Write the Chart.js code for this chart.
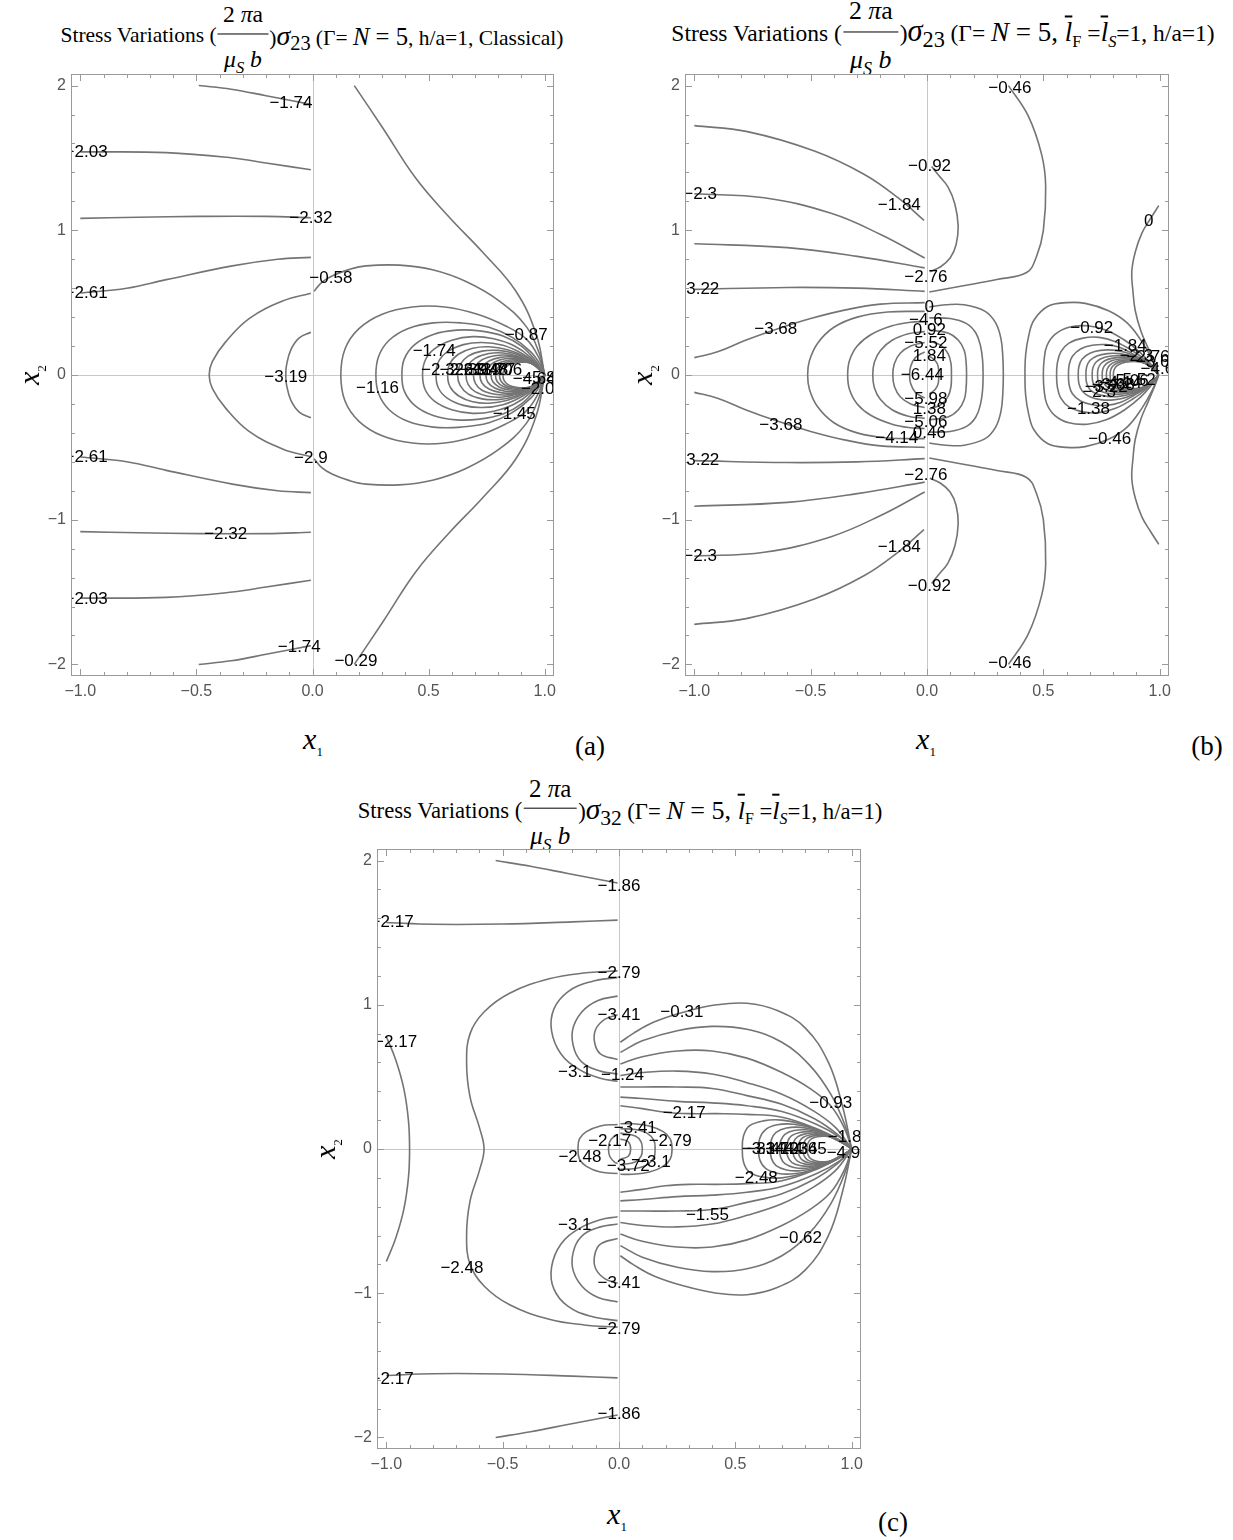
<!DOCTYPE html>
<html>
<head>
<meta charset="utf-8">
<title>Stress Variations</title>
<script src="https://cdn.jsdelivr.net/npm/chart.js@4.4.1/dist/chart.umd.min.js"></script>
<style>
  html, body { margin: 0; padding: 0; background: #fff; }
  #page { position: relative; width: 1233px; height: 1540px; overflow: hidden; background: #fff;
          font-family: "Liberation Serif", "Times New Roman", serif; color: #000; }
  #page canvas { position: absolute; }
  .title { position: absolute; display: flex; align-items: center; white-space: nowrap;
           line-height: 1; transform: translate(-50%, -50%); }
  .frac { display: inline-flex; flex-direction: column; align-items: center; margin: 0 0.05em;
          font-size: 1.1em; position: relative; top: 0.17em; }
  .frac .num { border-bottom: 1.4px solid #000; padding: 0 0.22em 0.25em; }
  .frac .den { padding-top: 0.6em; }
  .title sub { font-size: 0.7em; }
  .sig { font-style: italic; font-size: 1.3em; }
  .ix { font-size: 0.95em; position: relative; top: 0.25em; margin-right: 0.25em; }
  .big { font-size: 1.15em; }
  .lb { text-decoration: overline; font-size: 1.15em; }
  .axlab { position: absolute; font-size: 30px; font-style: italic; transform: translate(-50%, -50%); white-space: nowrap; }
  .axlab sub { font-size: 13px; font-style: normal; }
  .rot { transform: translate(-50%, -50%) rotate(-90deg); }
  .tag { position: absolute; font-size: 27px; transform: translate(-50%, -50%); }
</style>
</head>
<body>
<div id="page">
  <div class="title" style="left:312px;top:36px;font-size:21.5px">
    <span>Stress Variations (</span>
    <span class="frac"><span class="num">2 <i>π</i>a</span><span class="den"><i>μ</i><sub><i>S</i></sub> <i>b</i></span></span>
    <span>)<i class="sig">σ</i><span class="ix">23</span>(Γ= <i class="big">N</i><span class="big">&nbsp;=&nbsp;5</span>, h/a=1, Classical)</span>
  </div>
  <div class="title" style="left:943px;top:34px;font-size:23.5px">
    <span>Stress Variations (</span>
    <span class="frac"><span class="num">2 <i>π</i>a</span><span class="den"><i>μ</i><sub><i>S</i></sub> <i>b</i></span></span>
    <span>)<i class="sig">σ</i><span class="ix">23</span>(Γ= <i class="big">N</i><span class="big">&nbsp;=&nbsp;5,&nbsp;</span><i class="lb">l</i><sub>F</sub>&nbsp;=<i class="lb">l</i><sub><i>S</i></sub>=1, h/a=1)</span>
  </div>
  <div class="title" style="left:620px;top:811px;font-size:22.7px">
    <span>Stress Variations (</span>
    <span class="frac"><span class="num">2 <i>π</i>a</span><span class="den"><i>μ</i><sub><i>S</i></sub> <i>b</i></span></span>
    <span>)<i class="sig">σ</i><span class="ix">32</span>(Γ= <i class="big">N</i><span class="big">&nbsp;=&nbsp;5,&nbsp;</span><i class="lb">l</i><sub>F</sub>&nbsp;=<i class="lb">l</i><sub><i>S</i></sub>=1, h/a=1)</span>
  </div>

  <canvas id="chartA" width="545" height="636" style="left:23px;top:74px"></canvas>
  <canvas id="chartB" width="546" height="636" style="left:637px;top:74px"></canvas>
  <canvas id="chartC" width="546" height="634" style="left:329px;top:849px"></canvas>

  <div class="axlab" style="left:313px;top:741px">x<sub>1</sub></div>
  <div class="axlab rot" style="left:31px;top:375px">x<sub>2</sub></div>
  <div class="tag" style="left:590px;top:746px">(a)</div>

  <div class="axlab" style="left:926px;top:741px">x<sub>1</sub></div>
  <div class="axlab rot" style="left:644px;top:375px">x<sub>2</sub></div>
  <div class="tag" style="left:1207px;top:746px">(b)</div>

  <div class="axlab" style="left:617px;top:1516px">x<sub>1</sub></div>
  <div class="axlab rot" style="left:327px;top:1149px">x<sub>2</sub></div>
  <div class="tag" style="left:893px;top:1522px">(c)</div>
</div>

<script>
// frame ticks shared by all three panels
const xTicks = [-1, -0.5, 0, 0.5, 1];
const yTicks = [-2, -1, 0, 1, 2];

// contour paths: [level, kind, points of the upper half (x1, x2)]
// 'j' = path meets x2 = 0 at its first point and is closed with its mirror image,
// 'm' = mirror image drawn as a separate curve
const aLines = [
  [-1.74, 'm', [[-0.49, 2.0], [-0.35, 1.975], [-0.2, 1.93], [-0.007, 1.87]]],
  [-2.03, 'm', [[-1.0, 1.542], [-0.63, 1.537], [-0.345, 1.5], [-0.2, 1.465], [-0.007, 1.418]]],
  [-2.32, 'm', [[-1.0, 1.082], [-0.75, 1.09], [-0.49, 1.096], [-0.2, 1.096], [-0.007, 1.087]]],
  [-2.61, 'm', [[-1.0, 0.567], [-0.8, 0.6], [-0.63, 0.659], [-0.345, 0.754], [-0.15, 0.8], [-0.007, 0.813]]],
  [-2.9, 'j', [[-0.445, 0], [-0.431, 0.094], [-0.374, 0.229], [-0.273, 0.39], [-0.129, 0.511], [-0.007, 0.565]]],
  [-3.19, 'j', [[-0.115, 0], [-0.112, 0.067], [-0.093, 0.175], [-0.057, 0.256], [-0.007, 0.296]]],
  [-0.29, 'm', [[0.18, 2.0], [0.302, 1.709], [0.445, 1.359], [0.589, 1.09], [0.733, 0.848], [0.876, 0.579], [0.963, 0.283], [1.0, 0]]],
  [-0.58, 'm', [[0.007, 0.579], [0.04, 0.64], [0.086, 0.686], [0.16, 0.73], [0.23, 0.754], [0.374, 0.759], [0.517, 0.727], [0.661, 0.646], [0.805, 0.511], [0.92, 0.336], [0.977, 0.148], [1.0, 0]]],
  [-0.87, 'j', [[0.122, 0], [0.14, 0.18], [0.2, 0.32], [0.3, 0.42], [0.43, 0.47], [0.57, 0.47], [0.71, 0.42], [0.83, 0.34], [0.92, 0.25], [0.975, 0.12], [1.0, 0]]],
  [-1.16, 'j', [[0.273, 0], [0.285, 0.13], [0.33, 0.24], [0.41, 0.32], [0.52, 0.36], [0.64, 0.36], [0.76, 0.33], [0.86, 0.26], [0.94, 0.16], [0.985, 0.06], [1.0, 0]]],
  [-1.45, 'j', [[0.385, 0], [0.395, 0.11], [0.44, 0.21], [0.52, 0.28], [0.62, 0.31], [0.72, 0.305], [0.82, 0.27], [0.9, 0.2], [0.96, 0.1], [1.0, 0]]],
  [-1.74, 'j', [[0.474, 0], [0.485, 0.1], [0.525, 0.18], [0.6, 0.24], [0.69, 0.265], [0.78, 0.25], [0.87, 0.2], [0.94, 0.12], [1.0, 0]]],
  [-2.03, 'j', [[0.532, 0], [0.542, 0.09], [0.58, 0.16], [0.65, 0.21], [0.73, 0.225], [0.82, 0.205], [0.9, 0.15], [0.96, 0.08], [1.0, 0]]],
  [-2.32, 'j', [[0.582, 0], [0.592, 0.08], [0.63, 0.145], [0.69, 0.185], [0.76, 0.195], [0.84, 0.175], [0.91, 0.13], [0.965, 0.07], [1.0, 0]]],
  [-2.61, 'j', [[0.625, 0], [0.635, 0.07], [0.67, 0.13], [0.73, 0.165], [0.8, 0.17], [0.87, 0.148], [0.93, 0.1], [0.975, 0.05], [1.0, 0]]],
  [-2.9, 'j', [[0.661, 0], [0.67, 0.065], [0.7, 0.115], [0.76, 0.148], [0.82, 0.152], [0.88, 0.132], [0.94, 0.088], [0.98, 0.04], [1.0, 0]]],
  [-3.19, 'j', [[0.693, 0], [0.702, 0.06], [0.73, 0.105], [0.785, 0.133], [0.84, 0.137], [0.9, 0.118], [0.95, 0.076], [1.0, 0]]],
  [-3.48, 'j', [[0.721, 0], [0.73, 0.055], [0.76, 0.097], [0.81, 0.122], [0.86, 0.125], [0.91, 0.106], [0.955, 0.068], [1.0, 0]]],
  [-3.77, 'j', [[0.747, 0], [0.755, 0.05], [0.785, 0.09], [0.83, 0.112], [0.875, 0.114], [0.92, 0.097], [0.96, 0.062], [1.0, 0]]],
  [-4.06, 'j', [[0.769, 0], [0.777, 0.047], [0.805, 0.084], [0.85, 0.104], [0.89, 0.106], [0.93, 0.09], [0.965, 0.058], [1.0, 0]]],
  [-4.35, 'j', [[0.788, 0], [0.795, 0.045], [0.822, 0.08], [0.862, 0.097], [0.9, 0.099], [0.94, 0.085], [0.97, 0.055], [1.0, 0]]],
  [-4.64, 'j', [[0.805, 0], [0.812, 0.043], [0.836, 0.076], [0.872, 0.091], [0.91, 0.093], [0.945, 0.08], [0.975, 0.052], [1.0, 0]]],
  [-4.93, 'j', [[0.82, 0], [0.826, 0.041], [0.848, 0.072], [0.882, 0.086], [0.918, 0.088], [0.95, 0.076], [0.978, 0.05], [1.0, 0]]]
];
const aLabels = [
  [-1.74, -0.093, 1.876], [-2.03, -0.975, 1.542], [-2.32, -0.007, 1.082], [-2.61, -0.975, 0.567],
  [-0.58, 0.079, 0.665], [-0.87, 0.92, 0.277], [-1.74, 0.524, 0.165], [-3.19, -0.115, -0.013],
  [-1.16, 0.28, -0.094], [-1.45, 0.869, -0.269], [-2.9, -0.007, -0.573], [-2.61, -0.975, -0.567],
  [-2.32, -0.374, -1.104], [-2.03, -0.975, -1.548], [-1.74, -0.057, -1.879], [-0.29, 0.187, -1.978],
  [-2.32, 0.56, 0.035], [-2.61, 0.64, 0.03], [-2.9, 0.68, 0.03], [-3.19, 0.72, 0.03], [-3.48, 0.75, 0.03],
  [-3.77, 0.78, 0.03], [-4.06, 0.81, 0.03], [-4.64, 0.955, -0.03], [-5.8, 0.975, -0.02], [-2.03, 0.99, -0.1]
];

const bLines = [
  [-1.84, 'm', [[-1.0, 1.723], [-0.772, 1.682], [-0.484, 1.548], [-0.269, 1.386], [-0.125, 1.225], [-0.013, 1.069]]],
  [-2.3, 'm', [[-1.0, 1.252], [-0.7, 1.225], [-0.412, 1.117], [-0.197, 0.969], [-0.01, 0.808]]],
  [-2.76, 'm', [[-1.0, 0.907], [-0.6, 0.88], [-0.3, 0.82], [-0.01, 0.74]]],
  [-3.22, 'm', [[-1.0, 0.592], [-0.6, 0.605], [-0.3, 0.6], [-0.01, 0.578]]],
  [-3.68, 'm', [[-1.0, 0.12], [-0.9, 0.16], [-0.78, 0.24], [-0.65, 0.315], [-0.5, 0.39], [-0.35, 0.45], [-0.2, 0.49], [-0.01, 0.5]]],
  [-4.14, 'j', [[-0.513, 0], [-0.505, 0.1], [-0.47, 0.22], [-0.4, 0.33], [-0.3, 0.4], [-0.17, 0.435], [-0.01, 0.44]]],
  [-4.6, 'j', [[-0.341, 0], [-0.333, 0.1], [-0.3, 0.2], [-0.24, 0.28], [-0.15, 0.34], [-0.07, 0.365], [-0.01, 0.37]]],
  [-5.06, 'j', [[-0.233, 0], [-0.226, 0.09], [-0.2, 0.17], [-0.15, 0.24], [-0.08, 0.285], [-0.01, 0.3]]],
  [-5.52, 'j', [[-0.147, 0], [-0.14, 0.08], [-0.115, 0.15], [-0.07, 0.2], [-0.01, 0.225]]],
  [-5.98, 'j', [[-0.075, 0], [-0.07, 0.06], [-0.05, 0.12], [-0.01, 0.16]]],
  [0, 'j', [[0.328, 0], [0.326, 0.12], [0.318, 0.25], [0.295, 0.36], [0.25, 0.44], [0.16, 0.485], [0.08, 0.485], [0.01, 0.47]]],
  [0.46, 'j', [[0.241, 0], [0.239, 0.1], [0.23, 0.2], [0.21, 0.29], [0.17, 0.355], [0.1, 0.39], [0.01, 0.395]]],
  [0.92, 'j', [[0.17, 0], [0.168, 0.09], [0.16, 0.17], [0.135, 0.24], [0.09, 0.29], [0.01, 0.31]]],
  [1.38, 'j', [[0.105, 0], [0.103, 0.08], [0.09, 0.15], [0.06, 0.205], [0.01, 0.235]]],
  [1.84, 'j', [[0.05, 0], [0.048, 0.06], [0.035, 0.1], [0.01, 0.13]]],
  [-0.92, 'm', [[0.02, 1.44], [0.05, 1.38], [0.09, 1.3], [0.12, 1.18], [0.134, 1.03], [0.125, 0.9], [0.1, 0.81], [0.06, 0.75], [0.012, 0.713]]],
  [-0.46, 'm', [[0.35, 2.0], [0.435, 1.79], [0.493, 1.521], [0.51, 1.306], [0.5, 1.0], [0.471, 0.821], [0.428, 0.708], [0.3, 0.66], [0.15, 0.615], [0.01, 0.573]]],
  [0, 'm', [[0.996, 1.17], [0.96, 1.08], [0.924, 0.982], [0.895, 0.85], [0.88, 0.713], [0.885, 0.58], [0.895, 0.444], [0.92, 0.3], [0.953, 0.175], [0.98, 0.07], [0.996, 0]]],
  [-0.46, 'j', [[0.421, 0], [0.424, 0.14], [0.437, 0.27], [0.46, 0.38], [0.52, 0.475], [0.6, 0.5], [0.68, 0.495], [0.78, 0.444], [0.86, 0.36], [0.924, 0.229], [0.97, 0.1], [0.995, 0]]],
  [-0.92, 'j', [[0.5, 0], [0.503, 0.1], [0.515, 0.2], [0.55, 0.28], [0.61, 0.33], [0.69, 0.34], [0.77, 0.31], [0.85, 0.24], [0.92, 0.15], [0.97, 0.06], [0.995, 0]]],
  [-1.38, 'j', [[0.557, 0], [0.56, 0.08], [0.575, 0.16], [0.61, 0.22], [0.67, 0.255], [0.74, 0.26], [0.81, 0.23], [0.88, 0.17], [0.94, 0.1], [0.995, 0]]],
  [-1.84, 'j', [[0.608, 0], [0.611, 0.07], [0.625, 0.13], [0.66, 0.18], [0.71, 0.205], [0.77, 0.21], [0.83, 0.19], [0.89, 0.14], [0.95, 0.08], [0.995, 0]]],
  [-2.3, 'j', [[0.65, 0], [0.653, 0.06], [0.667, 0.11], [0.7, 0.15], [0.745, 0.17], [0.8, 0.172], [0.855, 0.155], [0.91, 0.115], [0.96, 0.06], [0.995, 0]]],
  [-2.76, 'j', [[0.683, 0], [0.686, 0.055], [0.7, 0.1], [0.73, 0.132], [0.775, 0.148], [0.825, 0.148], [0.875, 0.132], [0.925, 0.098], [0.965, 0.05], [0.995, 0]]],
  [-3.22, 'j', [[0.71, 0], [0.713, 0.05], [0.727, 0.09], [0.755, 0.118], [0.795, 0.131], [0.84, 0.131], [0.885, 0.117], [0.93, 0.088], [0.97, 0.045], [0.995, 0]]],
  [-3.68, 'j', [[0.733, 0], [0.736, 0.046], [0.75, 0.083], [0.777, 0.108], [0.815, 0.12], [0.857, 0.12], [0.9, 0.107], [0.94, 0.08], [0.972, 0.042], [0.995, 0]]],
  [-4.14, 'j', [[0.753, 0], [0.756, 0.043], [0.77, 0.077], [0.796, 0.1], [0.832, 0.111], [0.872, 0.111], [0.91, 0.099], [0.946, 0.074], [0.975, 0.04], [0.995, 0]]],
  [-4.6, 'j', [[0.771, 0], [0.774, 0.04], [0.788, 0.072], [0.813, 0.093], [0.847, 0.103], [0.884, 0.103], [0.92, 0.092], [0.952, 0.069], [0.978, 0.037], [0.995, 0]]],
  [-5.06, 'j', [[0.787, 0], [0.79, 0.038], [0.803, 0.068], [0.827, 0.088], [0.86, 0.097], [0.895, 0.097], [0.928, 0.087], [0.957, 0.065], [0.98, 0.035], [0.995, 0]]],
  [-5.52, 'j', [[0.801, 0], [0.804, 0.036], [0.817, 0.064], [0.84, 0.083], [0.871, 0.092], [0.904, 0.092], [0.935, 0.082], [0.961, 0.062], [0.982, 0.033], [0.995, 0]]]
];
const bLabels = [
  [-0.46, 0.356, 1.978], [-0.92, 0.011, 1.44], [-1.84, -0.119, 1.176], [-2.3, -0.975, 1.25], [0, 0.953, 1.063],
  [-2.76, -0.005, 0.673], [-3.22, -0.985, 0.592], [-3.68, -0.65, 0.315],
  [0, 0.01, 0.467], [-4.6, -0.005, 0.38], [0.92, 0.01, 0.31], [-5.52, -0.005, 0.22], [1.84, 0.01, 0.13],
  [-6.44, -0.02, 0], [-5.98, -0.005, -0.166], [1.38, 0.01, -0.24], [-5.06, -0.005, -0.325], [0.46, 0.01, -0.4],
  [-4.14, -0.13, -0.436], [-3.68, -0.628, -0.35], [-3.22, -0.985, -0.592], [-2.76, -0.005, -0.692],
  [-1.84, -0.119, -1.19], [-2.3, -0.975, -1.25], [-0.92, 0.01, -1.46], [-0.46, 0.356, -1.99],
  [-0.92, 0.708, 0.323], [-1.84, 0.852, 0.196], [-2.3, 0.9, 0.13], [-2.76, 0.95, 0.12], [-3.68, 0.99, 0.09],
  [-4.6, 0.99, 0.04], [-1.38, 0.694, -0.24], [-2.3, 0.74, -0.12], [-3.22, 0.77, -0.085], [-3.68, 0.8, -0.07],
  [-4.14, 0.83, -0.06], [-5.06, 0.86, -0.045], [-5.52, 0.89, -0.035], [-0.46, 0.785, -0.445]
];

const cLines = [
  [-1.86, 'm', [[-0.53, 2.0], [-0.38, 1.96], [-0.22, 1.91], [-0.006, 1.844]]],
  [-2.17, 'm', [[-1.0, 1.57], [-0.8, 1.558], [-0.5, 1.56], [-0.2, 1.575], [-0.006, 1.587]]],
  [-2.17, 'j', [[-0.9, 0], [-0.905, 0.2], [-0.925, 0.42], [-0.96, 0.62], [-1.0, 0.78]]],
  [-2.48, 'j', [[-0.58, 0], [-0.6, 0.15], [-0.64, 0.36], [-0.655, 0.6], [-0.64, 0.8], [-0.58, 0.95], [-0.47, 1.08], [-0.3, 1.18], [-0.15, 1.22], [-0.006, 1.235]]],
  [-2.79, 'm', [[-0.006, 1.19], [-0.12, 1.16], [-0.22, 1.09], [-0.28, 0.97], [-0.29, 0.82], [-0.25, 0.66], [-0.17, 0.55], [-0.08, 0.49], [-0.006, 0.47]]],
  [-3.1, 'm', [[-0.006, 1.06], [-0.09, 1.03], [-0.16, 0.95], [-0.2, 0.82], [-0.19, 0.68], [-0.15, 0.59], [-0.08, 0.54], [-0.006, 0.52]]],
  [-3.41, 'm', [[-0.006, 0.93], [-0.06, 0.9], [-0.1, 0.83], [-0.105, 0.74], [-0.08, 0.66], [-0.006, 0.62]]],
  [-2.48, 'j', [[-0.176, 0], [-0.17, 0.07], [-0.14, 0.12], [-0.08, 0.16], [-0.006, 0.17]]],
  [-2.17, 'j', [[-0.045, 0], [-0.04, 0.05], [-0.02, 0.09], [-0.006, 0.1]]],
  [-2.79, 'j', [[0.228, 0], [0.22, 0.07], [0.19, 0.12], [0.13, 0.16], [0.06, 0.175], [0.006, 0.175]]],
  [-3.1, 'j', [[0.155, 0], [0.15, 0.06], [0.12, 0.11], [0.07, 0.135], [0.006, 0.14]]],
  [-3.41, 'j', [[0.1, 0], [0.095, 0.05], [0.07, 0.09], [0.006, 0.11]]],
  [-3.72, 'j', [[0.05, 0], [0.04, 0.05], [0.006, 0.07]]],
  [-0.31, 'm', [[0.006, 0.74], [0.06, 0.8], [0.15, 0.88], [0.28, 0.95], [0.42, 1.0], [0.55, 1.01], [0.68, 0.96], [0.8, 0.84], [0.9, 0.6], [0.96, 0.3], [1.0, 0]]],
  [-0.62, 'm', [[0.006, 0.67], [0.1, 0.75], [0.25, 0.82], [0.4, 0.85], [0.55, 0.83], [0.7, 0.74], [0.82, 0.58], [0.91, 0.38], [0.97, 0.17], [1.0, 0]]],
  [-0.93, 'm', [[0.006, 0.59], [0.1, 0.64], [0.25, 0.68], [0.4, 0.68], [0.55, 0.63], [0.7, 0.53], [0.82, 0.42], [0.91, 0.3], [0.97, 0.14], [1.0, 0]]],
  [-1.24, 'm', [[0.006, 0.51], [0.1, 0.53], [0.25, 0.54], [0.4, 0.52], [0.55, 0.46], [0.7, 0.38], [0.83, 0.27], [0.93, 0.15], [1.0, 0]]],
  [-1.55, 'm', [[0.006, 0.43], [0.1, 0.43], [0.25, 0.43], [0.4, 0.42], [0.55, 0.37], [0.7, 0.31], [0.84, 0.21], [0.94, 0.1], [1.0, 0]]],
  [-1.86, 'm', [[0.006, 0.36], [0.1, 0.35], [0.25, 0.33], [0.4, 0.32], [0.55, 0.3], [0.7, 0.26], [0.85, 0.17], [0.95, 0.08], [1.0, 0]]],
  [-2.17, 'm', [[0.006, 0.3], [0.1, 0.28], [0.2, 0.255], [0.3, 0.245], [0.42, 0.245], [0.55, 0.24], [0.7, 0.22], [0.85, 0.14], [0.95, 0.06], [1.0, 0]]],
  [-2.48, 'j', [[0.53, 0], [0.535, 0.09], [0.56, 0.16], [0.62, 0.195], [0.7, 0.2], [0.8, 0.165], [0.9, 0.1], [0.97, 0.04], [1.0, 0]]],
  [-2.79, 'j', [[0.6, 0], [0.605, 0.075], [0.63, 0.135], [0.68, 0.168], [0.75, 0.172], [0.83, 0.145], [0.91, 0.09], [0.97, 0.035], [1.0, 0]]],
  [-3.1, 'j', [[0.65, 0], [0.655, 0.065], [0.675, 0.115], [0.72, 0.145], [0.78, 0.15], [0.85, 0.128], [0.92, 0.08], [0.975, 0.03], [1.0, 0]]],
  [-3.41, 'j', [[0.69, 0], [0.695, 0.058], [0.713, 0.102], [0.752, 0.128], [0.805, 0.133], [0.865, 0.115], [0.925, 0.073], [0.975, 0.028], [1.0, 0]]],
  [-3.72, 'j', [[0.72, 0], [0.725, 0.052], [0.742, 0.092], [0.777, 0.115], [0.826, 0.12], [0.878, 0.104], [0.93, 0.067], [0.978, 0.026], [1.0, 0]]],
  [-4.03, 'j', [[0.747, 0], [0.751, 0.048], [0.767, 0.084], [0.8, 0.105], [0.844, 0.11], [0.89, 0.096], [0.937, 0.062], [0.98, 0.024], [1.0, 0]]],
  [-4.34, 'j', [[0.77, 0], [0.774, 0.045], [0.789, 0.078], [0.819, 0.097], [0.86, 0.102], [0.902, 0.089], [0.943, 0.058], [0.982, 0.022], [1.0, 0]]],
  [-4.65, 'j', [[0.79, 0], [0.794, 0.042], [0.808, 0.073], [0.836, 0.091], [0.874, 0.095], [0.912, 0.083], [0.948, 0.054], [0.984, 0.02], [1.0, 0]]],
  [-4.96, 'j', [[0.808, 0], [0.812, 0.04], [0.825, 0.069], [0.851, 0.085], [0.886, 0.089], [0.921, 0.078], [0.953, 0.051], [0.985, 0.019], [1.0, 0]]]
];
const cLabels = [
  [-1.86, 0.0, 1.82], [-2.17, -0.975, 1.57], [-2.79, 0.0, 1.22], [-3.41, 0.0, 0.93], [-0.31, 0.27, 0.95],
  [-3.1, -0.19, 0.53], [-1.24, 0.015, 0.51], [-2.17, 0.28, 0.25], [-0.93, 0.91, 0.32], [-2.17, -0.96, 0.74],
  [-3.41, 0.07, 0.14], [-2.17, -0.04, 0.05], [-2.79, 0.22, 0.05], [-2.48, -0.168, -0.055],
  [-3.72, 0.04, -0.12], [-3.1, 0.15, -0.09], [-2.48, 0.59, -0.2], [-1.55, 0.38, -0.46],
  [-3.1, -0.19, -0.53], [-0.62, 0.78, -0.62], [-2.48, -0.675, -0.825], [-3.41, 0.0, -0.93],
  [-2.79, 0.0, -1.25], [-2.17, -0.975, -1.6], [-1.86, 0.0, -1.84],
  [-3.1, 0.6, 0.0], [-3.41, 0.64, 0.0], [-3.72, 0.68, 0.0], [-4.03, 0.72, 0.0], [-4.34, 0.76, 0.0],
  [-4.65, 0.8, 0.0], [-1.86, 0.99, 0.08], [-4.96, 0.985, -0.03]
];

function fmtLevel(v) {
  return v === 0 ? '0' : (v < 0 ? '\u2212' : '') + String(Math.abs(v));
}
function fmtTick(v, digits) {
  return (v < 0 ? '\u2212' : '') + Math.abs(v).toFixed(digits);
}

function curve(data) {
  return { data: data, showLine: true, borderColor: '#747474', borderWidth: 1.6,
           pointRadius: 0, pointHoverRadius: 0, tension: 0.4, fill: false };
}

// axes at zero, the framed box with inner tick marks, and the contour labels
const framePlugin = {
  id: 'frame',
  beforeDatasetsDraw(chart) {
    const { ctx, chartArea: a, scales: { x, y } } = chart;
    const x0 = Math.round(x.getPixelForValue(0)) + 0.5;
    const y0 = Math.round(y.getPixelForValue(0)) + 0.5;
    ctx.save();
    ctx.strokeStyle = '#c8c8c8';
    ctx.lineWidth = 1;
    ctx.beginPath();
    ctx.moveTo(x0, a.top); ctx.lineTo(x0, a.bottom);
    ctx.moveTo(a.left, y0); ctx.lineTo(a.right, y0);
    ctx.stroke();
    ctx.restore();
  },
  afterDraw(chart, args, opts) {
    const { ctx, chartArea: a, scales: { x, y } } = chart;
    ctx.save();
    ctx.strokeStyle = '#9a9a9a';
    ctx.lineWidth = 1;
    ctx.strokeRect(Math.round(a.left) + 0.5, Math.round(a.top) + 0.5,
                   Math.round(a.right - a.left) - 1, Math.round(a.bottom - a.top) - 1);
    ctx.beginPath();
    for (let i = -10; i <= 10; i++) {
      const px = Math.round(x.getPixelForValue(i / 10)) + 0.5;
      const len = i % 5 === 0 ? 7 : 4;
      ctx.moveTo(px, a.bottom); ctx.lineTo(px, a.bottom - len);
      ctx.moveTo(px, a.top); ctx.lineTo(px, a.top + len);
    }
    for (let i = -10; i <= 10; i++) {
      const py = Math.round(y.getPixelForValue(i / 5)) + 0.5;
      const len = i % 5 === 0 ? 7 : 4;
      ctx.moveTo(a.left, py); ctx.lineTo(a.left + len, py);
      ctx.moveTo(a.right, py); ctx.lineTo(a.right - len, py);
    }
    ctx.stroke();

    ctx.beginPath();
    ctx.rect(a.left + 1, a.top + 1, a.right - a.left - 2, a.bottom - a.top - 2);
    ctx.clip();
    ctx.fillStyle = '#000';
    ctx.font = '17px "Liberation Sans", Arial, sans-serif';
    ctx.textAlign = 'center';
    ctx.textBaseline = 'middle';
    for (const [level, lx, ly] of opts.labels) {
      ctx.fillText(fmtLevel(level), x.getPixelForValue(lx), y.getPixelForValue(ly));
    }
    ctx.restore();
  }
};

function drawPanel(id, lines, labels) {
  const datasets = [];
  for (const [level, kind, pts] of lines) {
    const up = pts.map(p => ({ x: p[0], y: p[1] }));
    const dn = pts.map(p => ({ x: p[0], y: -p[1] }));
    if (kind === 'j') {
      datasets.push(curve(dn.reverse().concat(up.slice(1))));
    } else {
      datasets.push(curve(up));
      if (kind === 'm') datasets.push(curve(dn));
    }
  }
  const tickFont = { family: '"Liberation Sans", Arial, sans-serif', size: 16 };
  return new Chart(document.getElementById(id), {
    type: 'scatter',
    data: { datasets: datasets },
    options: {
      responsive: false,
      animation: false,
      devicePixelRatio: 1,
      layout: { autoPadding: false, padding: { left: 0, top: 0, right: 14, bottom: 0 } },
      plugins: { legend: { display: false }, tooltip: { enabled: false }, frame: { labels: labels } },
      events: [],
      scales: {
        x: {
          type: 'linear', min: -1.04, max: 1.04,
          afterBuildTicks: s => { s.ticks = xTicks.map(v => ({ value: v })); },
          afterFit: s => { s.height = 34; s.paddingLeft = 0; s.paddingRight = 0; },
          grid: { display: false, drawTicks: false }, border: { display: false },
          ticks: { color: '#555', font: tickFont, padding: 6, maxRotation: 0, autoSkip: false,
                   callback: v => fmtTick(v, 1) }
        },
        y: {
          type: 'linear', min: -2.08, max: 2.08,
          afterBuildTicks: s => { s.ticks = yTicks.map(v => ({ value: v })); },
          afterFit: s => { s.width = 48; s.paddingTop = 0; s.paddingBottom = 0; },
          grid: { display: false, drawTicks: false }, border: { display: false },
          ticks: { color: '#555', font: tickFont, padding: 5, autoSkip: false,
                   callback: v => fmtTick(v, 0) }
        }
      }
    },
    plugins: [framePlugin]
  });
}

drawPanel('chartA', aLines, aLabels);
drawPanel('chartB', bLines, bLabels);
drawPanel('chartC', cLines, cLabels);
</script>
</body>
</html>
